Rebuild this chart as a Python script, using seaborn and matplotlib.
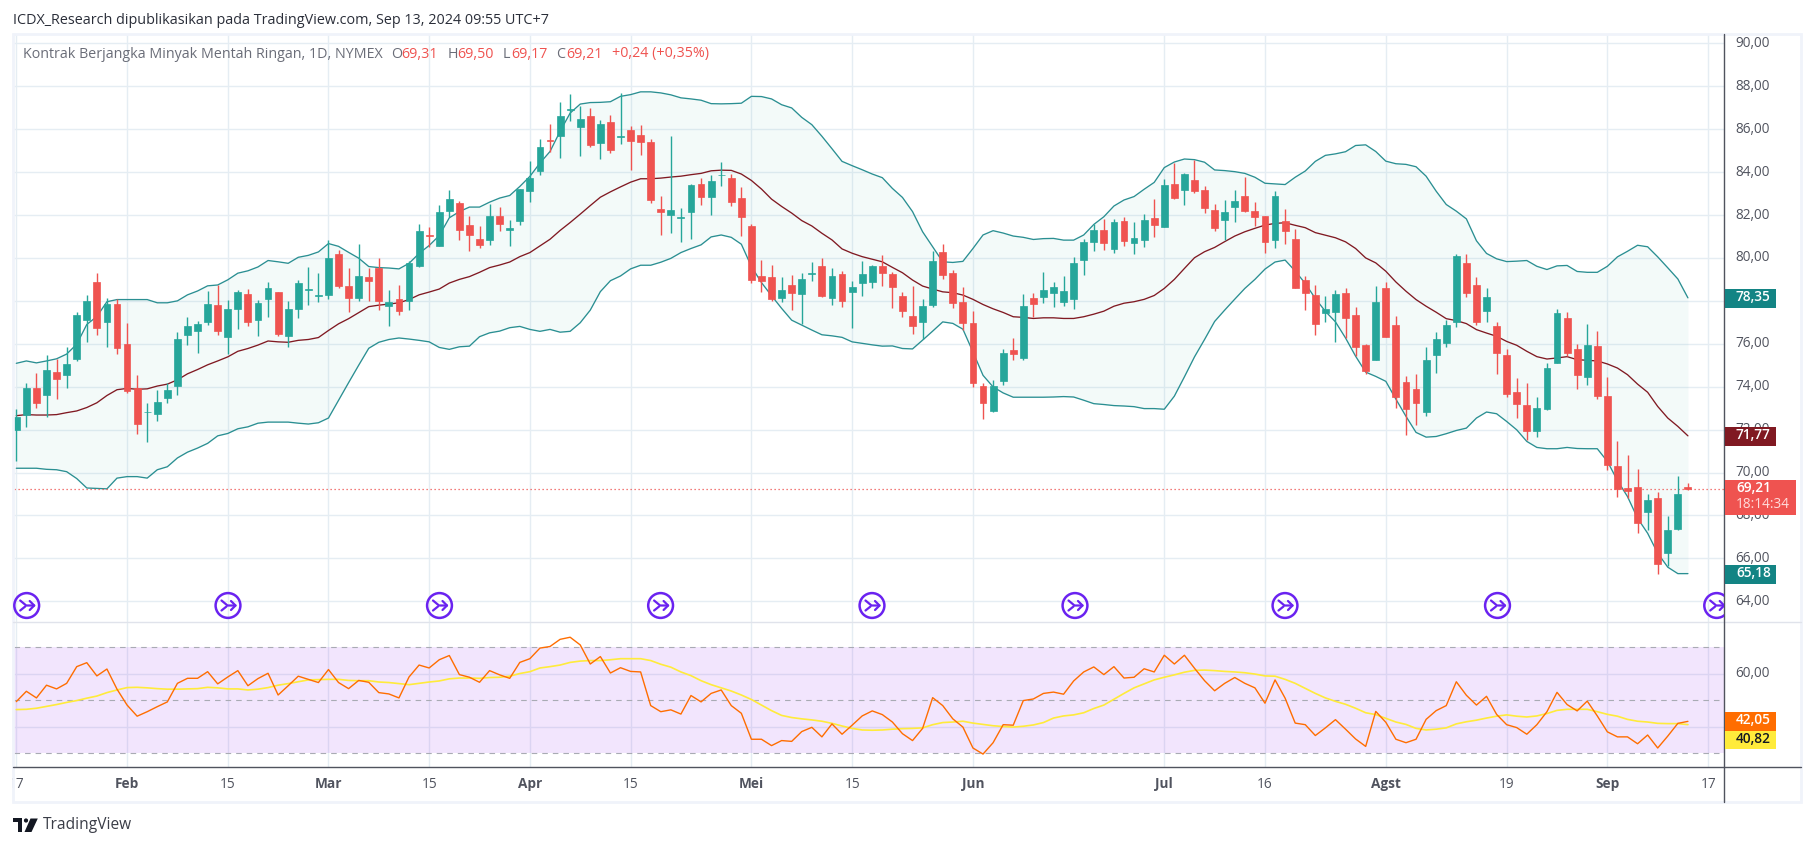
import matplotlib
matplotlib.use("Agg")
import matplotlib.pyplot as plt
import seaborn as sns
import pandas as pd
import numpy as np
from matplotlib.patches import Circle, Polygon, Rectangle
from matplotlib.transforms import Bbox, ScaledTranslation

# daily candles
opens = [72.0, 72.7, 73.92, 73.59, 74.67, 74.56, 75.3, 77.12, 78.9, 77.03,
         77.84, 75.98, 73.94, 72.8, 72.74, 73.48, 74.05, 76.42, 76.6, 77.03,
         77.82, 76.33, 77.63, 78.33, 77.12, 78.09, 78.39, 76.36, 77.6, 78.5,
         78.22, 78.28, 80.17, 78.7, 78.13, 79.12, 79.53, 77.76, 78.09, 78.0,
         79.62, 81.07, 80.56, 82.2, 82.55, 81.54, 80.89, 80.84, 81.96, 81.28,
         81.7, 83.14, 84.03, 85.5, 85.67, 86.88, 86.09, 86.61, 85.34, 86.33,
         85.64, 85.96, 85.73, 85.4, 82.27, 81.98, 81.85, 82.12, 83.46, 82.82,
         83.85, 83.74, 82.8, 81.49, 79.16, 79.1, 78.15, 78.74, 78.33, 79.26,
         79.63, 78.15, 79.24, 78.43, 78.85, 78.89, 79.61, 79.25, 78.22, 77.29,
         77.02, 77.8, 80.26, 79.28, 77.94, 76.96, 74.02, 72.86, 74.27, 75.7,
         75.34, 78.13, 78.19, 78.38, 77.96, 78.1, 79.92, 80.76, 81.28, 80.43,
         81.7, 80.71, 80.85, 81.84, 81.46, 83.43, 83.18, 83.62, 83.15, 82.22,
         81.78, 82.39, 82.87, 82.17, 81.94, 80.85, 81.7, 80.86, 78.95, 78.25,
         77.44, 77.49, 78.37, 77.34, 75.96, 75.23, 78.62, 76.89, 74.23, 73.91,
         72.83, 75.46, 76.02, 77.02, 79.77, 78.76, 77.51, 76.85, 75.49, 73.77,
         73.16, 71.92, 72.94, 75.09, 77.2, 75.76, 74.44, 75.9, 73.56, 70.3,
         69.29, 69.32, 68.14, 68.82, 66.27, 67.39, 69.31]
highs = [72.94, 74.19, 74.63, 75.46, 75.28, 75.83, 77.5, 78.26, 79.29, 78.15,
         78.09, 76.95, 74.54, 73.25, 73.83, 74.19, 76.57, 77.27, 77.08, 78.48,
         78.74, 78.06, 78.52, 78.57, 78.06, 78.88, 78.39, 78.0, 78.98, 79.58,
         79.29, 80.85, 80.39, 79.51, 80.67, 79.51, 80.0, 78.5, 78.72, 79.88,
         81.59, 81.44, 82.47, 83.15, 82.65, 81.96, 81.49, 82.52, 82.38, 81.77,
         83.22, 84.53, 85.54, 86.26, 87.27, 87.66, 87.1, 86.99, 86.43, 86.66,
         87.7, 86.16, 86.2, 85.54, 82.9, 85.7, 82.33, 83.46, 83.74, 83.86,
         84.48, 83.91, 83.32, 81.59, 79.91, 79.67, 79.1, 79.21, 79.28, 79.81,
         80.0, 79.52, 79.38, 78.93, 79.86, 79.66, 80.12, 79.33, 78.41, 78.69,
         78.08, 80.32, 80.65, 79.42, 78.64, 77.52, 74.15, 74.33, 75.78, 76.26,
         78.31, 78.36, 79.34, 78.9, 79.15, 80.04, 80.86, 81.58, 81.8, 81.8,
         81.89, 81.67, 82.05, 82.75, 83.66, 84.44, 83.96, 84.57, 83.35, 82.51,
         82.7, 83.17, 83.77, 82.61, 81.94, 83.12, 82.28, 81.35, 79.15, 78.73,
         78.22, 78.5, 78.62, 77.72, 76.0, 78.71, 78.9, 77.31, 74.51, 74.61,
         75.87, 76.57, 77.13, 80.19, 80.19, 79.13, 78.6, 77.03, 75.77, 74.42,
         74.19, 73.53, 75.1, 77.64, 77.48, 76.0, 76.92, 76.6, 74.45, 71.46,
         70.83, 70.17, 69.0, 69.09, 67.98, 69.85, 69.5]
lows = [70.55, 72.11, 73.0, 72.57, 73.44, 73.95, 75.2, 76.07, 76.42, 75.83,
        75.54, 73.71, 71.8, 71.43, 72.41, 73.25, 73.59, 75.94, 75.57, 76.88,
        76.42, 75.54, 76.68, 76.84, 76.36, 77.23, 76.35, 75.85, 77.21, 77.82,
        77.95, 78.09, 78.61, 77.5, 78.0, 78.0, 77.58, 76.84, 77.32, 77.58,
        79.57, 80.49, 80.56, 81.9, 80.84, 80.33, 80.48, 80.61, 81.26, 80.56,
        81.54, 82.61, 83.88, 84.92, 84.68, 86.37, 84.73, 85.15, 84.59, 84.87,
        85.29, 84.08, 84.82, 82.58, 81.09, 81.18, 80.76, 80.9, 82.47, 82.02,
        83.36, 82.44, 81.0, 78.85, 78.41, 77.99, 77.95, 77.57, 76.92, 78.94,
        78.19, 77.82, 77.73, 76.75, 78.24, 78.61, 78.71, 77.66, 77.26, 76.46,
        76.21, 77.72, 79.03, 77.68, 76.63, 73.99, 72.5, 72.81, 74.07, 75.23,
        75.25, 77.24, 77.89, 77.72, 77.77, 77.63, 79.22, 80.34, 80.38, 80.24,
        80.57, 80.2, 80.52, 80.99, 81.42, 82.76, 82.48, 83.04, 82.11, 81.27,
        80.83, 81.69, 82.14, 81.49, 80.23, 80.46, 80.65, 78.61, 77.57, 76.4,
        77.02, 76.09, 76.27, 75.42, 74.61, 75.23, 76.3, 73.02, 71.73, 72.23,
        72.62, 74.65, 75.87, 76.77, 78.2, 76.86, 77.0, 74.58, 73.5, 72.55,
        71.5, 71.64, 72.9, 75.09, 75.45, 73.88, 74.09, 73.41, 70.13, 68.87,
        68.81, 67.2, 67.34, 65.28, 65.65, 67.3, 69.17]
closes = [72.61, 73.95, 73.25, 74.76, 74.36, 75.08, 77.36, 78.0, 76.73, 77.84,
          75.81, 73.79, 72.28, 72.82, 73.31, 73.86, 76.2, 76.84, 76.9, 77.87,
          76.6, 77.6, 78.42, 77.03, 77.91, 78.61, 76.44, 77.6, 78.85, 78.53,
          78.26, 79.99, 78.7, 78.13, 79.14, 78.92, 78.0, 77.93, 77.52, 79.75,
          81.26, 81.0, 82.14, 82.74, 81.28, 81.09, 80.62, 81.96, 81.6, 81.39,
          83.2, 83.72, 85.17, 85.47, 86.61, 86.94, 86.47, 85.25, 86.24, 85.01,
          85.68, 85.43, 85.39, 82.68, 82.12, 82.23, 81.9, 83.41, 82.82, 83.58,
          83.88, 82.63, 81.93, 78.99, 78.94, 78.09, 78.51, 78.38, 79.0, 79.28,
          78.23, 79.14, 78.01, 78.63, 79.24, 79.61, 79.32, 78.66, 77.54, 76.84,
          77.75, 79.85, 79.22, 77.91, 76.98, 74.18, 73.23, 74.05, 75.56, 75.51,
          77.75, 77.86, 78.49, 78.63, 78.44, 79.75, 80.74, 81.28, 80.71, 81.66,
          80.8, 80.91, 81.75, 81.55, 83.38, 82.79, 83.9, 83.14, 82.34, 81.41,
          82.12, 82.64, 82.19, 81.92, 80.76, 82.87, 81.27, 78.61, 78.38, 76.93,
          77.6, 78.3, 77.19, 75.83, 74.72, 77.97, 76.3, 73.5, 72.94, 73.22,
          75.26, 76.24, 76.89, 80.11, 78.35, 77.0, 78.2, 75.56, 73.64, 73.18,
          71.92, 73.0, 74.89, 77.44, 75.56, 74.53, 75.94, 73.55, 70.33, 69.21,
          69.16, 67.65, 68.71, 65.76, 67.31, 68.99, 69.21]

# bollinger bands
bb_upper = [75.09, 75.2, 75.11, 75.2, 75.3, 75.52, 75.98, 76.9, 77.27, 77.96,
            78.06, 78.06, 78.06, 78.06, 77.91, 77.91, 78.0, 78.28, 78.46, 78.7,
            78.74, 78.98, 79.29, 79.4, 79.58, 79.88, 79.82, 79.75, 80.03, 80.12,
            80.28, 80.67, 80.54, 80.26, 79.99, 79.6, 79.55, 79.53, 79.49, 79.75,
            80.21, 80.58, 81.04, 81.87, 82.16, 82.37, 82.37, 82.6, 82.79, 82.91,
            83.33, 83.8, 84.42, 84.96, 85.9, 86.75, 87.17, 87.24, 87.25, 87.28,
            87.53, 87.61, 87.74, 87.74, 87.69, 87.6, 87.46, 87.41, 87.35, 87.19,
            87.18, 87.19, 87.21, 87.53, 87.52, 87.41, 87.14, 86.99, 86.55, 86.21,
            85.67, 85.09, 84.5, 84.3, 84.11, 83.91, 83.74, 83.24, 82.82, 82.16,
            81.22, 80.52, 79.82, 79.79, 79.84, 80.44, 81.07, 81.27, 81.16, 81.02,
            80.96, 80.86, 80.9, 80.91, 80.83, 80.83, 81.07, 81.56, 81.92, 82.42,
            82.7, 82.86, 83.2, 83.52, 84.21, 84.47, 84.61, 84.58, 84.46, 84.1,
            84.07, 84.02, 83.94, 83.76, 83.48, 83.45, 83.42, 83.76, 84.05, 84.5,
            84.78, 84.85, 84.95, 85.24, 85.27, 84.96, 84.51, 84.39, 84.36, 84.25,
            83.81, 83.11, 82.49, 82.18, 81.82, 80.8, 80.21, 79.96, 79.83, 79.85,
            79.88, 79.61, 79.46, 79.63, 79.65, 79.37, 79.33, 79.33, 79.61, 80.05,
            80.31, 80.59, 80.52, 80.05, 79.54, 79.02, 78.14]
bb_basis = [72.65, 72.7, 72.68, 72.68, 72.7, 72.79, 72.87, 73.03, 73.25, 73.59,
            73.86, 73.92, 73.88, 73.9, 74.03, 74.12, 74.32, 74.6, 74.8, 75.02,
            75.2, 75.39, 75.65, 75.78, 75.94, 76.13, 76.09, 76.07, 76.16, 76.2,
            76.29, 76.62, 76.93, 77.17, 77.45, 77.73, 77.8, 77.85, 77.91, 78.06,
            78.28, 78.41, 78.55, 78.83, 79.0, 79.13, 79.33, 79.55, 79.67, 79.81,
            80.06, 80.25, 80.56, 80.87, 81.28, 81.65, 82.04, 82.44, 82.83, 83.08,
            83.31, 83.53, 83.69, 83.69, 83.72, 83.77, 83.81, 83.88, 83.94, 84.06,
            84.09, 84.08, 83.91, 83.61, 83.21, 82.74, 82.4, 82.09, 81.74, 81.49,
            81.15, 80.84, 80.42, 80.22, 80.06, 79.94, 79.82, 79.56, 79.31, 78.97,
            78.69, 78.55, 78.42, 78.38, 78.27, 78.07, 77.83, 77.63, 77.46, 77.26,
            77.23, 77.18, 77.21, 77.21, 77.18, 77.18, 77.26, 77.38, 77.52, 77.75,
            77.89, 77.96, 78.07, 78.25, 78.58, 79.0, 79.51, 80.01, 80.29, 80.49,
            80.76, 81.02, 81.22, 81.38, 81.53, 81.61, 81.64, 81.52, 81.41, 81.18,
            81.06, 80.94, 80.75, 80.44, 80.0, 79.77, 79.38, 78.88, 78.45, 78.06,
            77.75, 77.47, 77.17, 77.08, 76.94, 76.66, 76.5, 76.35, 76.11, 75.93,
            75.65, 75.4, 75.29, 75.34, 75.4, 75.26, 75.23, 75.2, 75.06, 74.87,
            74.56, 74.12, 73.74, 73.08, 72.54, 72.15, 71.71]
bb_lower = [70.2, 70.2, 70.2, 70.15, 70.13, 70.04, 69.72, 69.28, 69.26, 69.24,
            69.74, 69.81, 69.81, 69.74, 70.13, 70.27, 70.68, 70.95, 71.14, 71.36,
            71.71, 71.82, 72.04, 72.13, 72.3, 72.35, 72.35, 72.35, 72.3, 72.26,
            72.32, 72.54, 73.37, 74.19, 75.0, 75.79, 76.07, 76.2, 76.27, 76.22,
            76.16, 76.09, 75.83, 75.74, 75.86, 75.89, 76.33, 76.51, 76.59, 76.75,
            76.81, 76.67, 76.58, 76.67, 76.54, 76.58, 76.98, 77.57, 78.43, 78.94,
            79.16, 79.49, 79.66, 79.66, 79.8, 79.98, 80.25, 80.44, 80.61, 80.98,
            81.07, 80.96, 80.64, 79.6, 78.85, 78.24, 77.65, 77.1, 76.87, 76.64,
            76.42, 76.37, 76.3, 76.09, 76.02, 75.95, 75.89, 75.9, 75.78, 75.76,
            76.17, 76.59, 77.02, 76.95, 76.68, 75.62, 74.53, 73.99, 73.71, 73.51,
            73.51, 73.51, 73.51, 73.52, 73.54, 73.52, 73.37, 73.21, 73.17, 73.12,
            73.1, 73.07, 72.98, 72.98, 72.95, 73.56, 74.46, 75.39, 76.2, 77.04,
            77.57, 78.08, 78.58, 79.0, 79.48, 79.81, 79.9, 79.39, 78.81, 78.11,
            77.51, 77.02, 76.27, 75.42, 74.68, 74.48, 74.25, 73.42, 72.62, 71.87,
            71.65, 71.68, 71.81, 71.96, 72.07, 72.54, 72.82, 72.74, 72.38, 71.99,
            71.45, 71.17, 71.11, 71.11, 71.17, 71.12, 71.11, 71.11, 70.52, 69.63,
            68.88, 67.87, 67.17, 66.24, 65.59, 65.29, 65.29]

# rsi and its moving average
rsi = [49.5, 53.4, 50.9, 55.7, 54.3, 56.4, 62.7, 64.2, 59.2, 61.8,
       54.2, 48.2, 44.0, 45.7, 47.6, 49.4, 56.4, 58.3, 58.3, 60.8,
       56.2, 58.8, 61.2, 55.5, 58.2, 60.2, 52.0, 55.5, 59.1, 57.9,
       56.7, 61.6, 56.7, 54.4, 57.5, 56.8, 52.9, 52.4, 50.9, 58.8,
       63.3, 62.2, 65.3, 66.9, 59.7, 58.7, 56.8, 61.2, 59.6, 58.3,
       64.3, 65.7, 69.7, 70.3, 73.0, 73.8, 70.9, 63.7, 66.5, 60.3,
       62.3, 60.9, 60.7, 48.0, 45.7, 46.4, 44.8, 51.8, 49.4, 52.6,
       53.9, 48.0, 45.1, 35.3, 35.3, 32.9, 34.8, 34.5, 38.2, 39.8,
       36.2, 41.1, 37.2, 40.6, 44.1, 46.0, 44.6, 41.8, 37.4, 34.8,
       39.4, 51.0, 48.0, 43.0, 39.9, 32.0, 29.7, 34.0, 40.8, 40.6,
       49.9, 50.5, 52.6, 53.1, 52.3, 57.3, 60.7, 62.6, 59.7, 62.7,
       58.4, 58.7, 61.9, 60.7, 67.0, 63.7, 67.0, 62.1, 57.4, 53.6,
       56.4, 58.6, 56.4, 54.7, 48.9, 57.7, 50.8, 41.4, 40.8, 36.7,
       39.6, 42.7, 39.1, 35.4, 32.6, 45.8, 41.7, 35.3, 34.0, 35.3,
       42.8, 46.1, 48.0, 57.0, 51.9, 48.2, 51.5, 44.7, 40.8, 39.7,
       37.2, 40.8, 45.7, 53.0, 48.4, 46.0, 49.7, 44.1, 38.1, 36.2,
       36.2, 33.6, 36.9, 32.0, 36.5, 41.3, 42.05]
rsi_ma = [46.5, 46.6, 47.0, 47.7, 48.4, 49.2, 49.9, 50.8, 51.6, 52.9,
          53.9, 54.8, 54.9, 54.7, 54.4, 54.2, 54.2, 54.3, 54.4, 54.9,
          54.7, 54.3, 54.3, 53.9, 54.2, 54.8, 55.7, 56.3, 57.0, 57.7,
          57.8, 57.9, 57.9, 57.5, 57.4, 57.4, 56.9, 56.7, 56.3, 55.9,
          56.4, 56.9, 57.3, 58.1, 58.4, 58.4, 58.3, 58.6, 58.7, 59.1,
          60.1, 60.8, 62.2, 62.7, 63.3, 64.3, 64.8, 65.0, 65.0, 65.3,
          65.7, 65.7, 65.7, 65.0, 63.6, 62.5, 60.7, 59.3, 57.4, 55.9,
          54.7, 53.5, 52.0, 50.3, 48.2, 46.1, 44.3, 43.5, 43.0, 42.6,
          42.1, 41.3, 40.3, 39.4, 38.8, 38.7, 38.8, 39.1, 39.3, 39.4,
          39.6, 40.8, 41.6, 41.8, 42.1, 41.4, 40.9, 40.4, 40.1, 39.9,
          40.2, 40.7, 41.6, 43.3, 44.1, 44.5, 45.3, 46.9, 48.2, 50.4,
          52.6, 54.7, 56.2, 57.7, 58.7, 59.6, 60.6, 61.3, 61.4, 61.2,
          60.9, 60.7, 60.4, 59.9, 59.2, 59.1, 57.9, 56.4, 54.5, 52.6,
          50.9, 49.6, 48.5, 47.0, 45.3, 44.6, 43.2, 41.8, 40.9, 39.4,
          38.8, 39.1, 39.6, 41.1, 41.9, 42.5, 43.3, 44.0, 44.5, 44.0,
          43.7, 44.1, 45.0, 46.2, 46.6, 46.6, 46.6, 45.7, 44.7, 44.0,
          42.8, 42.1, 41.8, 41.3, 41.2, 41.2, 40.82]

# time axis: bar index of each label
time_ticks = [0, 11, 21, 31, 41, 51, 61, 73, 83, 95, 114, 124, 136, 148, 158, 168]
time_labels = ['17', 'Feb', '15', 'Mar', '15', 'Apr', '15', 'Mei', '15', 'Jun', 'Jul', '16', 'Agst', '19', 'Sep', '17']
price_ticks = list(range(64, 92, 2))
last_price = 69.21
icon_x = [26.7, 228, 439.5, 660.6, 872, 1075, 1285, 1497.5, 1716.7]

UP = '#26a69a'
DOWN = '#ef5350'
BAND = '#2a8f92'
BASIS = '#801922'
GRID = '#e5edf3'
TXT = '#50535e'
ICON = '#6a22f0'


def comma(v):
    return f'{v:.2f}'.replace('.', ',')


def draw_candles(ax, df):
    rising = df['close'] >= df['open']
    colors = np.where(rising, UP, DOWN)
    ax.vlines(df['idx'], df['low'], df['high'], colors=colors, linewidth=1.0, zorder=4)
    bottoms = df[['open', 'close']].min(axis=1)
    heights = (df['close'] - df['open']).abs()
    ax.bar(df['idx'], heights, bottom=bottoms, width=0.68, color=colors,
           edgecolor=colors, linewidth=0.5, zorder=5)


def draw_icon(ov, cx, cy=605.5, clip=None):
    parts = [Circle((cx, cy), 12.4, fill=False, edgecolor=ICON, linewidth=1.8, zorder=3)]
    segs = [[(-6.5, -5), (-0.5, 0), (7.5, 0)], [(-6.5, 5), (-1.5, 1)], [(3, -4.5), (7.5, 0), (3, 4.5)]]
    lines = []
    for s in segs:
        lines += ov.plot([cx + p[0] for p in s], [cy + p[1] for p in s], color=ICON, lw=1.6,
                         solid_capstyle='round', zorder=3)
    for p in parts:
        ov.add_patch(p)
    for a in parts + lines:
        a.set_clip_path(clip)


def main():
    sns.set_theme(style='white')
    plt.rcParams['font.family'] = ['Open Sans', 'DejaVu Sans']

    df = pd.DataFrame({'open': opens, 'high': highs, 'low': lows, 'close': closes,
                       'upper': bb_upper, 'basis': bb_basis, 'lower': bb_lower,
                       'rsi': rsi, 'rsi_ma': rsi_ma})
    df['idx'] = np.arange(len(df))

    W, H = 1814, 846
    fig = plt.figure(figsize=(W / 100, H / 100), dpi=100, facecolor='white')
    nudge = ScaledTranslation(0, 2 / 100, fig.dpi_scale_trans)

    def px_axes(x0, y0, x1, y1, **kw):
        return fig.add_axes([x0 / W, 1 - y1 / H, (x1 - x0) / W, (y1 - y0) / H], **kw)

    xlim = ((13.5 - 16.3) / 10.07, (1724 - 16.3) / 10.07)

    # --- price pane ---
    ax = px_axes(13.5, 34, 1724, 622)
    ax.set_xlim(*xlim)
    ax.set_ylim(64 - 20.7 / 21.46, 64 + 567.3 / 21.46)
    ax.fill_between(df['idx'], df['lower'], df['upper'], color=UP, alpha=0.05, linewidth=0, zorder=2)
    sns.lineplot(data=df, x='idx', y='upper', color=BAND, linewidth=0.95, ax=ax, zorder=3, estimator=None, sort=False)
    sns.lineplot(data=df, x='idx', y='lower', color=BAND, linewidth=0.95, ax=ax, zorder=3, estimator=None, sort=False)
    sns.lineplot(data=df, x='idx', y='basis', color=BASIS, linewidth=0.95, ax=ax, zorder=3, estimator=None, sort=False)
    ax.axhline(last_price, color=DOWN, linewidth=0.9, linestyle=(0, (1, 2.2)), zorder=3)
    draw_candles(ax, df)
    ax.set_xticks(time_ticks)
    ax.set_yticks(price_ticks)
    ax.set_yticklabels([comma(p) for p in price_ticks], color=TXT, fontsize=9.8)
    ax.tick_params(axis='x', length=0, labelbottom=False)
    ax.tick_params(axis='y', length=0, left=False, right=False, labelleft=False, labelright=True, pad=8)
    for lab in ax.get_yticklabels(which='major'):
        lab.set_transform(lab.get_transform() + nudge)
    ax.grid(True, color=GRID, linewidth=1.0, zorder=0)
    ax.set_axisbelow(True)
    ax.set_xlabel('')
    ax.set_ylabel('')
    sns.despine(ax=ax, left=True, bottom=True, top=True, right=True)

    # --- rsi pane ---
    ax2 = px_axes(13.5, 622.5, 1724, 767)
    ax2.set_xlim(*xlim)
    ax2.set_ylim(30 - 13.7 / 2.65, 70 + 24.8 / 2.65)
    ax2.axhspan(30, 70, color='#8800ec', alpha=0.1, linewidth=0, zorder=1)
    for lvl in (70, 50, 30):
        ax2.axhline(lvl, color='#a9abb4', linewidth=0.8, linestyle=(0, (5, 4.5)), zorder=2)
    sns.lineplot(data=df, x='idx', y='rsi_ma', color='#ffeb3b', linewidth=1.2, ax=ax2, zorder=3, estimator=None, sort=False)
    sns.lineplot(data=df, x='idx', y='rsi', color='#ff6d00', linewidth=1.0, ax=ax2, zorder=4, estimator=None, sort=False)
    ax2.set_xticks(time_ticks)
    ax2.set_xticklabels(time_labels, color=TXT, fontsize=9.8)
    ax2.set_yticks([40, 60])
    ax2.set_yticklabels(['', '60,00'], color=TXT, fontsize=9.8)
    ax2.tick_params(axis='x', length=0, pad=7)
    ax2.tick_params(axis='y', length=0, left=False, right=False, labelleft=False, labelright=True, pad=8)
    for lab in ax2.get_yticklabels():
        lab.set_transform(lab.get_transform() + nudge)
    for lab in ax2.get_xticklabels():
        if not lab.get_text().isdigit():
            lab.set_fontweight('bold')
        lab.set_clip_box(Bbox([[12, 0], [W, H]]))
        lab.set_clip_on(True)
    ax2.grid(True, color=GRID, linewidth=1.0, zorder=0)
    ax2.set_axisbelow(True)
    ax2.set_xlabel('')
    ax2.set_ylabel('')
    sns.despine(ax=ax2, left=True, bottom=True, top=True, right=True)

    # --- overlay in pixel coordinates: frame, labels, header ---
    ov = fig.add_axes([0, 0, 1, 1], facecolor='none', zorder=10)
    ov.set_xlim(0, W)
    ov.set_ylim(H, 0)
    ov.axis('off')

    ov.add_patch(Rectangle((13, 34), 1788, 768, fill=False, edgecolor='#f0f3fa', linewidth=2.0))
    ov.plot([13, 1801], [622, 622], color='#e0e3eb', lw=1.0)
    ov.plot([13, 1801], [767, 767], color='#50535e', lw=1.0)
    ov.plot([1724, 1724], [34, 802], color='#50535e', lw=1.0)

    clip = Rectangle((13, 34), 1711, 588, transform=ov.transData)
    for cx in icon_x:
        draw_icon(ov, cx, clip=clip)

    # price scale tags
    tags = [(289, 307.7, 1776, '#138484', 'white', comma(78.35)),
            (427, 445.7, 1776, BASIS, 'white', comma(71.77)),
            (565, 583.7, 1776, '#138484', 'white', comma(65.18)),
            (712, 730.7, 1776, '#ff6d00', 'white', comma(42.05)),
            (730.7, 749.3, 1776, '#ffeb3b', '#131722', comma(40.82))]
    for y0, y1, x1, bg, fg, txt in tags:
        ov.add_patch(Rectangle((1724.5, y0), x1 - 1724.5, y1 - y0, facecolor=bg, edgecolor='none', zorder=4))
        ov.text(1736, (y0 + y1) / 2 - 1, txt, color=fg, fontsize=9.8, fontweight=600, va='center', ha='left', zorder=5)
    ov.add_patch(Rectangle((1724.5, 480), 71, 35, facecolor=DOWN, edgecolor='none', zorder=4))
    ov.text(1736, 488, comma(last_price), color='white', fontsize=9.8, fontweight=600, va='center', zorder=5)
    ov.text(1736, 504, '18:14:34', color='#ffdcdb', fontsize=9.8, va='center', zorder=5)

    # header
    ov.text(13, 20, 'ICDX_Research dipublikasikan pada TradingView.com, Sep 13, 2024 09:55 UTC+7',
            color='#2a2e39', fontsize=10.35, va='center')
    ov.text(23, 54, 'Kontrak Berjangka Minyak Mentah Ringan, 1D, NYMEX', color='#6a6d78', fontsize=10.3, va='center')
    legend_bits = [(391.5, 'O', '#6a6d78'), (401.5, '69,31', DOWN), (447.5, 'H', '#6a6d78'), (457, '69,50', DOWN),
                   (503, 'L', '#6a6d78'), (511, '69,17', DOWN), (556.5, 'C', '#6a6d78'), (566, '69,21', DOWN),
                   (611.5, '+0,24 (+0,35%)', DOWN)]
    for x, s, c in legend_bits:
        ov.text(x, 54, s, color=c, fontsize=10.3, va='center')

    # footer logo
    ov.add_patch(Polygon([(13, 818.5), (21.7, 818.5), (21.7, 832), (17.5, 832), (17.5, 822.5), (13, 822.5)],
                         facecolor='#131722', edgecolor='none'))
    ov.add_patch(Circle((26, 820.5), 2.1, facecolor='#131722', edgecolor='none'))
    ov.add_patch(Polygon([(30.5, 818.5), (37.8, 818.5), (31.5, 832), (24.5, 832)], facecolor='#131722', edgecolor='none'))
    ov.text(42.5, 825, 'TradingView', color='#3a3d47', fontsize=11.2, va='center')

    fig.savefig('out.png', dpi=100, facecolor='white')


if __name__ == '__main__':
    main()
